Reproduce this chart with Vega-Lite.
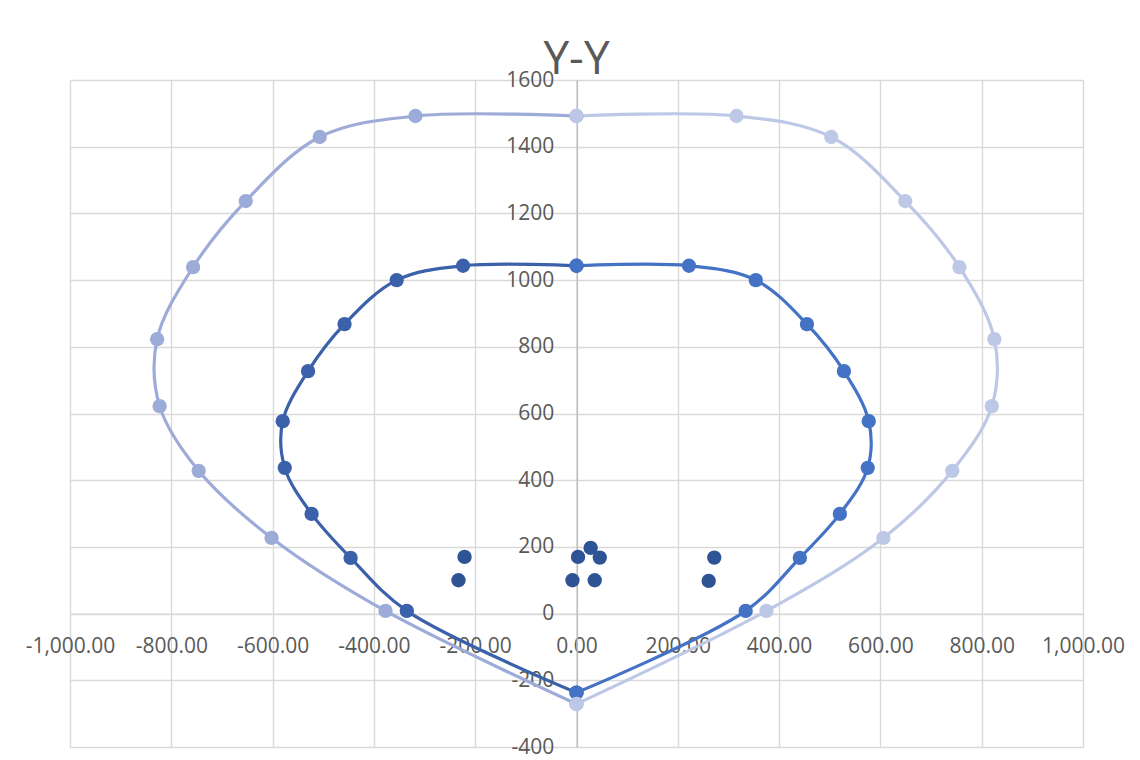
{
  "$schema": "https://vega.github.io/schema/vega-lite/v6.json",
  "width": 1013,
  "height": 667,
  "autosize": {"type": "none"},
  "padding": {"left": 70, "top": 80, "right": 57, "bottom": 13},
  "background": "white",
  "title": {"text": "Y-Y", "fontSize": 46, "font": "Open Sans", "fontWeight": "normal", "color": "#595959", "anchor": "middle", "frame": "group", "offset": -15},
  "config": {
    "view": {"stroke": null},
    "locale": {"number": {"decimal": ".", "thousands": ",", "grouping": [3], "currency": ["$", ""], "minus": "-"}},
    "axis": {"labelFont": "Open Sans", "labelFontSize": 21, "labelColor": "#595959", "gridColor": "#d9d9d9", "gridWidth": 1.4, "ticks": false, "title": null, "labelOverlap": false, "labelFlush": false}
  },
  "datasets": {
    "curves": [
      {"series": "inner_left", "order": 1, "x": 0, "y": -237},
      {"series": "inner_left", "order": 2, "x": -335, "y": 8},
      {"series": "inner_left", "order": 3, "x": -446, "y": 167},
      {"series": "inner_left", "order": 4, "x": -523, "y": 299},
      {"series": "inner_left", "order": 5, "x": -576, "y": 437},
      {"series": "inner_left", "order": 6, "x": -580, "y": 577},
      {"series": "inner_left", "order": 7, "x": -530, "y": 727},
      {"series": "inner_left", "order": 8, "x": -458, "y": 868},
      {"series": "inner_left", "order": 9, "x": -355, "y": 1000},
      {"series": "inner_left", "order": 10, "x": -224, "y": 1043},
      {"series": "inner_left", "order": 11, "x": 0, "y": 1043},
      {"series": "inner_right", "order": 1, "x": 0, "y": -237},
      {"series": "inner_right", "order": 2, "x": 334, "y": 8},
      {"series": "inner_right", "order": 3, "x": 441, "y": 167},
      {"series": "inner_right", "order": 4, "x": 520, "y": 299},
      {"series": "inner_right", "order": 5, "x": 575, "y": 437},
      {"series": "inner_right", "order": 6, "x": 577, "y": 577},
      {"series": "inner_right", "order": 7, "x": 528, "y": 727},
      {"series": "inner_right", "order": 8, "x": 455, "y": 868},
      {"series": "inner_right", "order": 9, "x": 354, "y": 1000},
      {"series": "inner_right", "order": 10, "x": 222, "y": 1043},
      {"series": "inner_right", "order": 11, "x": 0, "y": 1043},
      {"series": "outer_left", "order": 1, "x": 0, "y": -271},
      {"series": "outer_left", "order": 2, "x": -377, "y": 8},
      {"series": "outer_left", "order": 3, "x": -602, "y": 227},
      {"series": "outer_left", "order": 4, "x": -746, "y": 428},
      {"series": "outer_left", "order": 5, "x": -823, "y": 622},
      {"series": "outer_left", "order": 6, "x": -828, "y": 823},
      {"series": "outer_left", "order": 7, "x": -757, "y": 1039},
      {"series": "outer_left", "order": 8, "x": -653, "y": 1237},
      {"series": "outer_left", "order": 9, "x": -507, "y": 1429},
      {"series": "outer_left", "order": 10, "x": -318, "y": 1492},
      {"series": "outer_left", "order": 11, "x": 0, "y": 1492},
      {"series": "outer_right", "order": 1, "x": 0, "y": -271},
      {"series": "outer_right", "order": 2, "x": 375, "y": 8},
      {"series": "outer_right", "order": 3, "x": 606, "y": 227},
      {"series": "outer_right", "order": 4, "x": 742, "y": 428},
      {"series": "outer_right", "order": 5, "x": 820, "y": 622},
      {"series": "outer_right", "order": 6, "x": 825, "y": 823},
      {"series": "outer_right", "order": 7, "x": 756, "y": 1039},
      {"series": "outer_right", "order": 8, "x": 649, "y": 1237},
      {"series": "outer_right", "order": 9, "x": 503, "y": 1429},
      {"series": "outer_right", "order": 10, "x": 316, "y": 1492},
      {"series": "outer_right", "order": 11, "x": 0, "y": 1492}
    ],
    "scatter": [
      {"x": -221, "y": 170},
      {"x": -233, "y": 100},
      {"x": 3, "y": 170},
      {"x": -8, "y": 100},
      {"x": 28, "y": 197},
      {"x": 46, "y": 168},
      {"x": 36, "y": 100},
      {"x": 272, "y": 168},
      {"x": 261, "y": 98}
    ]
  },
  "encoding": {
    "x": {"field": "x", "type": "quantitative", "scale": {"domain": [-1000, 1000], "nice": false, "zero": false},
      "axis": {"values": [-1000, -800, -600, -400, -200, 0, 200, 400, 600, 800, 1000], "format": ",.2f", "offset": -133.4, "labelPadding": 22, "domainColor": "#d9d9d9", "domainWidth": 1.4, "grid": true}},
    "y": {"field": "y", "type": "quantitative", "scale": {"domain": [-400, 1600], "nice": false, "zero": false},
      "axis": {"values": [-400, -200, 0, 200, 400, 600, 800, 1000, 1200, 1400, 1600], "format": "d", "offset": -506.7, "labelPadding": 23, "domainColor": "#bfbfbf", "domainWidth": 1.5, "grid": true}}
  },
  "layer": [
    {
      "data": {"name": "curves"},
      "mark": {"type": "line", "interpolate": "catmull-rom", "strokeWidth": 3.2},
      "encoding": {
        "order": {"field": "order", "type": "quantitative"},
        "color": {"field": "series", "type": "nominal", "legend": null,
          "scale": {"domain": ["inner_left", "inner_right", "outer_left", "outer_right"], "range": ["#3A61AA", "#4472C4", "#9DABD8", "#BDC8E6"]}}
      }
    },
    {
      "data": {"name": "curves"},
      "mark": {"type": "point", "filled": true, "opacity": 1, "size": 205},
      "encoding": {
        "color": {"field": "series", "type": "nominal", "legend": null}
      }
    },
    {
      "data": {"name": "scatter"},
      "mark": {"type": "point", "filled": true, "opacity": 1, "size": 205, "color": "#2F5496"}
    }
  ]
}
